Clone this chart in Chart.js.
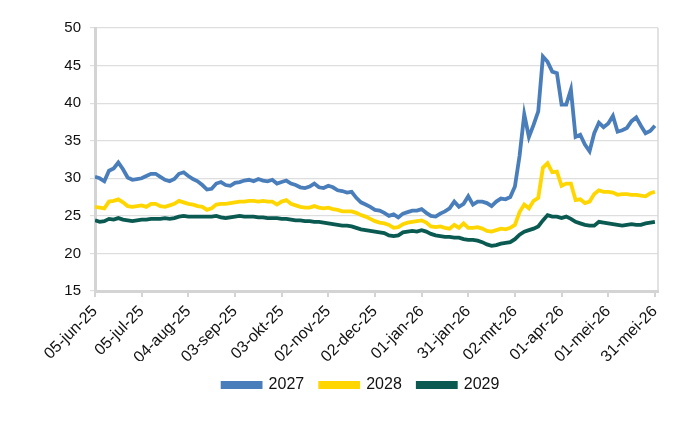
<!DOCTYPE html>
<html>
<head>
<meta charset="utf-8">
<script src="https://cdn.jsdelivr.net/npm/chart.js@4/dist/chart.umd.min.js"></script>
<style>
    html, body { margin: 0; padding: 0; background: #fff; }
    #wrap { width: 700px; height: 430px; }
</style>
</head>
<body>
<div id="wrap"><canvas id="priceChart"></canvas></div>
<script>
// one value every 3 days, starting 05-jun-25
const STEP_DAYS = 3;

const tickLabels = [
    '05-jun-25', '05-jul-25', '04-aug-25', '03-sep-25', '03-okt-25', '02-nov-25', '02-dec-25',
    '01-jan-26', '31-jan-26', '02-mrt-26', '01-apr-26', '01-mei-26', '31-mei-26',
];

const values2027 = [
    30.2, 30.0, 29.6, 31.0, 31.3, 32.1, 31.2, 30.1, 29.8, 29.9,
    30.0, 30.3, 30.6, 30.6, 30.2, 29.8, 29.6, 29.9, 30.6, 30.8,
    30.3, 29.9, 29.6, 29.1, 28.5, 28.6, 29.3, 29.5, 29.1, 29.0,
    29.4, 29.5, 29.7, 29.8, 29.6, 29.9, 29.7, 29.6, 29.8, 29.3,
    29.5, 29.7, 29.3, 29.1, 28.8, 28.7, 28.9, 29.3, 28.8, 28.7,
    29.0, 28.8, 28.4, 28.3, 28.1, 28.2, 27.4, 26.8, 26.5, 26.2,
    25.8, 25.7, 25.4, 25.0, 25.2, 24.8, 25.3, 25.5, 25.7, 25.7,
    25.9, 25.4, 25.0, 24.9, 25.3, 25.6, 26.0, 26.9, 26.2, 26.6,
    27.6, 26.5, 26.9, 26.9, 26.7, 26.3, 26.9, 27.3, 27.2, 27.5,
    28.9, 33.0, 38.5, 35.5, 37.1, 38.9, 46.2, 45.5, 44.2, 44.0,
    39.8, 39.8, 41.8, 35.5, 35.8, 34.5, 33.6, 36.0, 37.4, 36.8,
    37.3, 38.3, 36.2, 36.4, 36.7, 37.6, 38.1, 37.0, 36.0, 36.3,
    37.0,
];

const values2028 = [
    26.2, 26.1, 26.0, 26.9, 27.0, 27.2, 26.8, 26.3, 26.2, 26.3,
    26.4, 26.2, 26.6, 26.6, 26.3, 26.2, 26.4, 26.6, 27.0, 26.8,
    26.6, 26.5, 26.3, 26.2, 25.8, 26.0, 26.5, 26.6, 26.6, 26.7,
    26.8, 26.9, 26.9, 27.0, 27.0, 26.9, 27.0, 26.9, 26.9, 26.5,
    26.9, 27.1, 26.6, 26.4, 26.2, 26.1, 26.1, 26.3, 26.1, 26.0,
    26.1, 25.9, 25.8, 25.6, 25.6, 25.6, 25.4, 25.1, 24.9, 24.6,
    24.3, 24.1, 24.0, 23.8, 23.4, 23.5, 23.9, 24.1, 24.2, 24.3,
    24.4, 24.1, 23.6, 23.5, 23.6, 23.4, 23.3, 23.8, 23.4, 24.0,
    23.4, 23.4, 23.5, 23.3, 23.0, 22.9, 23.1, 23.3, 23.2, 23.4,
    23.8, 25.5, 26.5, 26.0, 27.0, 27.4, 31.4, 32.0, 30.8, 30.9,
    29.0, 29.3, 29.3, 27.1, 27.2, 26.7, 26.9, 27.9, 28.4, 28.2,
    28.2, 28.1, 27.8, 27.9, 27.9, 27.8, 27.8, 27.7, 27.6, 28.0,
    28.2,
];

const values2029 = [
    24.4, 24.2, 24.3, 24.6, 24.5, 24.7, 24.5, 24.4, 24.3, 24.4,
    24.5, 24.5, 24.6, 24.6, 24.6, 24.7, 24.6, 24.7, 24.9, 25.0,
    24.9, 24.9, 24.9, 24.9, 24.9, 24.9, 25.0, 24.8, 24.7, 24.8,
    24.9, 25.0, 24.9, 24.9, 24.9, 24.8, 24.8, 24.7, 24.7, 24.7,
    24.6, 24.6, 24.5, 24.4, 24.4, 24.3, 24.3, 24.2, 24.2, 24.1,
    24.0, 23.9, 23.8, 23.7, 23.7, 23.6, 23.4, 23.2, 23.1, 23.0,
    22.9, 22.8, 22.7, 22.4, 22.3, 22.4, 22.8, 22.9, 23.0, 22.9,
    23.1, 22.9, 22.6, 22.4, 22.3, 22.2, 22.2, 22.1, 22.1, 21.9,
    21.8, 21.8, 21.7, 21.5, 21.2, 21.0, 21.1, 21.3, 21.4, 21.5,
    21.9, 22.5, 22.9, 23.1, 23.3, 23.6, 24.4, 25.1, 24.9, 24.9,
    24.7, 24.9, 24.6, 24.2, 24.0, 23.8, 23.7, 23.7, 24.2, 24.1,
    24.0, 23.9, 23.8, 23.7, 23.8, 23.9, 23.8, 23.8, 24.0, 24.1,
    24.2,
];

const seriesNames = ['2027', '2028', '2029'];
const seriesColors = ['#4a7ebb', '#ffd600', '#0a5a52'];

const toPoints = (values) => values.map((y, i) => ({ x: i * STEP_DAYS, y }));

Chart.defaults.font.family = '"Liberation Sans", Arial, sans-serif';
Chart.defaults.color = '#111';

// thin border on the right side of the plot area
const plotBorder = {
    id: 'plotBorder',
    beforeDatasetsDraw(chart) {
        const { ctx, chartArea } = chart;
        ctx.save();
        ctx.strokeStyle = '#d9d9d9';
        ctx.lineWidth = 1.5;
        ctx.beginPath();
        ctx.moveTo(chartArea.right, chartArea.top);
        ctx.lineTo(chartArea.right, chartArea.bottom);
        ctx.stroke();
        ctx.restore();
    },
};

const datasets = [values2027, values2028, values2029].map((values, i) => ({
    label: seriesNames[i],
    data: toPoints(values),
    borderColor: seriesColors[i],
    backgroundColor: seriesColors[i],
    borderWidth: 3.8,
    pointRadius: 0,
    tension: 0,
}));

new Chart(document.getElementById('priceChart'), {
    type: 'line',
    data: { datasets },
    plugins: [plotBorder],
    options: {
        responsive: true,
        maintainAspectRatio: false,
        animation: false,
        layout: {
            padding: { left: 64, right: 42, top: 28, bottom: 27 },
        },
        plugins: {
            legend: {
                position: 'bottom',
                labels: {
                    boxWidth: 38,
                    boxHeight: 4,
                    padding: 16,
                    font: { size: 16 },
                    color: '#111',
                },
            },
            tooltip: { enabled: false },
        },
        scales: {
            x: {
                type: 'linear',
                min: 0,
                max: 362,
                afterFit: (scale) => { scale.height = 70; },
                grid: {
                    drawOnChartArea: false,
                    color: '#d4d4d4',
                    lineWidth: 2,
                    tickLength: 6,
                },
                border: { color: '#d4d4d4', width: 3 },
                ticks: {
                    stepSize: 30,
                    includeBounds: false,
                    autoSkip: false,
                    maxRotation: 45,
                    minRotation: 45,
                    padding: 5,
                    font: { size: 16 },
                    color: '#111',
                    callback: (value) => tickLabels[value / 30] ?? '',
                },
            },
            y: {
                min: 15,
                max: 50,
                afterFit: (scale) => { scale.width = 31; },
                grid: {
                    color: '#dedede',
                    lineWidth: 1.2,
                    tickLength: 5,
                },
                border: { color: '#d4d4d4', width: 3 },
                ticks: {
                    stepSize: 5,
                    padding: 9,
                    font: { size: 15 },
                    color: '#111',
                },
            },
        },
    },
});
</script>
</body>
</html>
